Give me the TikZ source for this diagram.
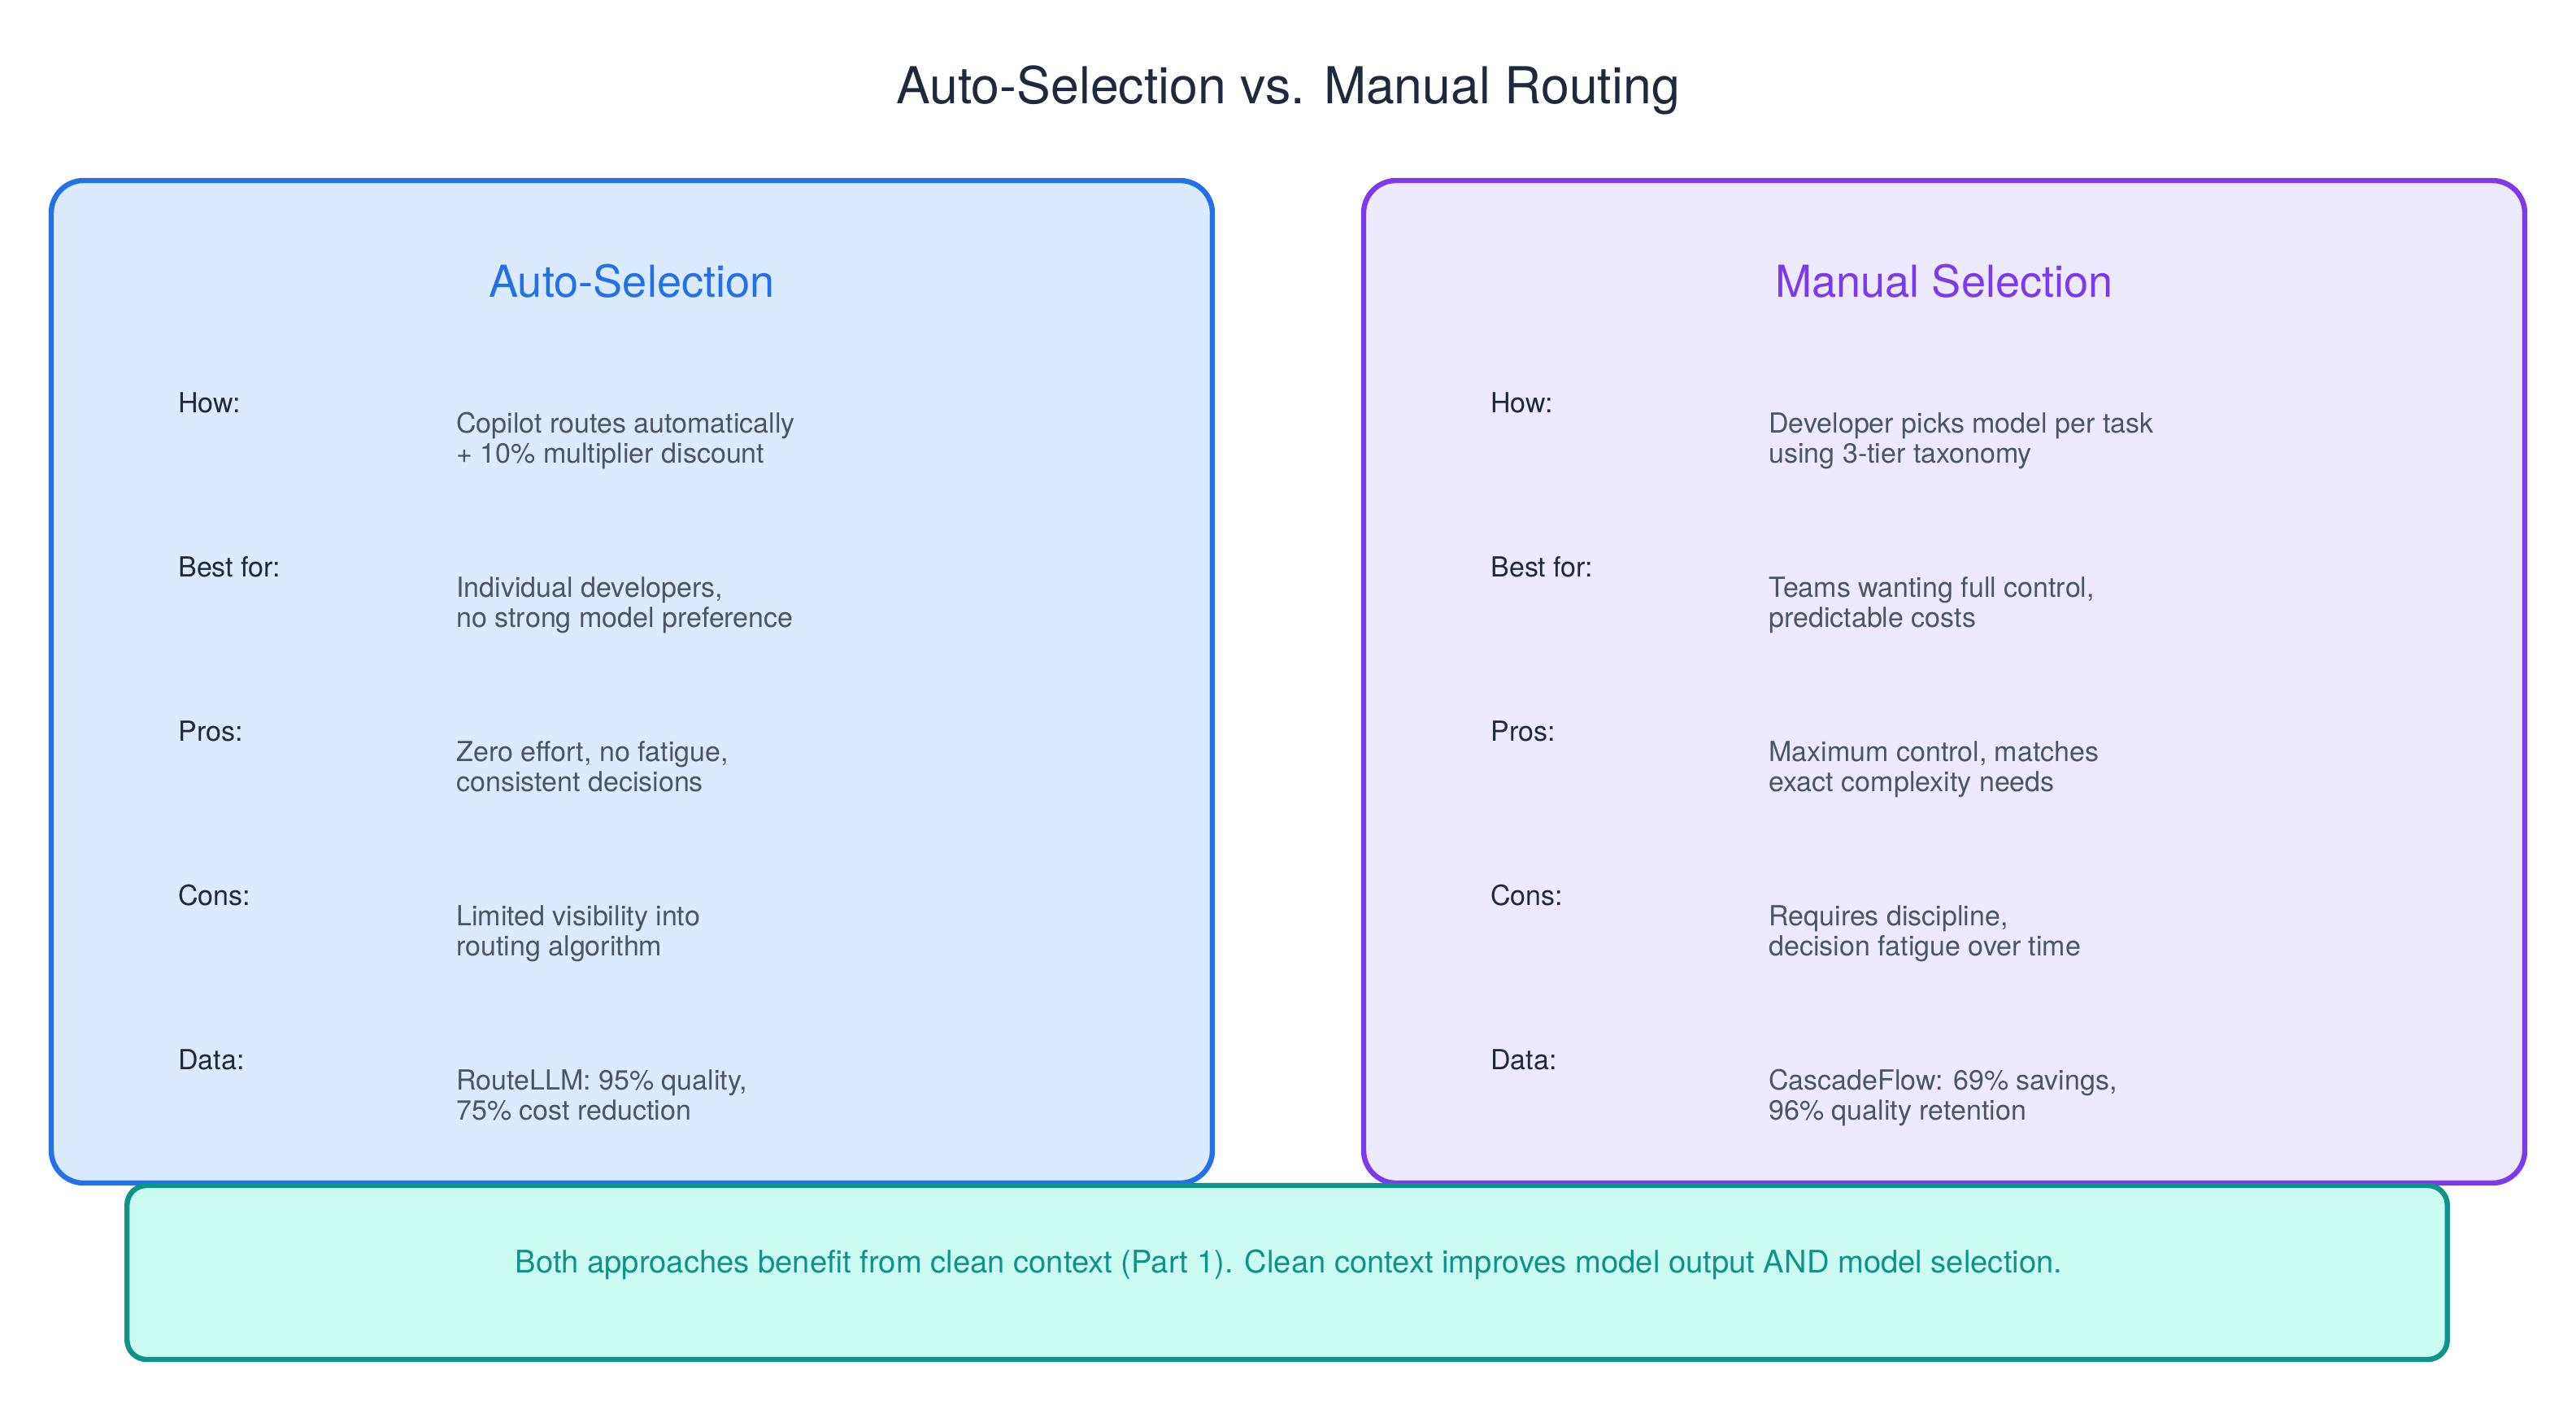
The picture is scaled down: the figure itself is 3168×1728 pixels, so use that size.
\documentclass[tikz,border=0pt]{standalone}
\usepackage{fontspec}
\setmainfont{TeX Gyre Heros}
\usetikzlibrary{shapes}
\usetikzlibrary{backgrounds}
\definecolor{titlenavy}{HTML}{1E293B}
\definecolor{labgray}{HTML}{1F2937}
\definecolor{valgray}{HTML}{4B5563}
\definecolor{autoblue}{HTML}{2271E8}
\definecolor{autofill}{HTML}{DBEAFE}
\definecolor{manpurple}{HTML}{7C3AED}
\definecolor{manfill}{HTML}{EDE9FE}
\definecolor{noteteal}{HTML}{0D9488}
\definecolor{notefill}{HTML}{CCFBF1}

\begin{document}
\begin{tikzpicture}[x=0.5pt,y=-0.5pt,
	panel/.style={draw,line width=3.2pt,rounded corners=20pt,minimum width=714pt,minimum height=616.5pt,inner sep=0pt},
	head/.style={anchor=base,inner sep=0pt,font=\fontsize{27.1}{30}\selectfont},
	lab/.style={anchor=base west,inner sep=0pt,text=labgray,font=\fontsize{17}{18.5}\selectfont},
	val/.style={anchor=base west,inner sep=0pt,align=left,text=valgray,font=\fontsize{17}{18.5}\selectfont}]
\useasboundingbox[fill=white] (0,0) rectangle (3168,1728);
\node[anchor=base,inner sep=0pt,text=titlenavy,font=\fontsize{31.3}{36}\selectfont] (title) at (1584,128) {Auto-Selection vs. Manual Routing};
\node[panel,draw=autoblue,fill=autofill] (auto) at (777,838.5) {};
\node[panel,draw=manpurple,fill=manfill] (manual) at (2391,838.5) {};
\node[head,text=autoblue] (autohead) at (auto.center |- 0,365) {Auto-Selection};
\node[head,text=manpurple] (manhead) at (manual.center |- 0,365) {Manual Selection};
\foreach \lab/\lt/\rt [count=\n from 0] in {
	How:/{Copilot routes automatically\\+ 10\% multiplier discount}/{Developer picks model per task\\using 3-tier taxonomy},
	Best for:/{Individual developers,\\no strong model preference}/{Teams wanting full control,\\predictable costs},
	Pros:/{Zero effort, no fatigue,\\consistent decisions}/{Maximum control, matches\\exact complexity needs},
	Cons:/{Limited visibility into\\routing algorithm}/{Requires discipline,\\decision fatigue over time},
	Data:/{RouteLLM: 95\% quality,\\75\% cost reduction}/{CascadeFlow: 69\% savings,\\96\% quality retention}} {
	\node[lab] (al\n) at (219,507+202*\n) {\lab};
	\node[val] (av\n) at (561,569+202*\n) {\lt};
	\node[lab] (ml\n) at (1833,507+202*\n) {\lab};
	\node[val] (mv\n) at (2175,569+202*\n) {\rt};
}
\node[draw=noteteal,fill=notefill,line width=3.2pt,rounded corners=12pt,minimum width=1426.75pt,minimum height=107pt] (note) at (1583,1565) {};
\node[anchor=base,inner sep=0pt,text=noteteal,font=\fontsize{19.1}{22}\selectfont] (notetext) at (1585,1565) {Both approaches benefit from clean context (Part 1). Clean context improves model output AND model selection.};
\end{tikzpicture}
\end{document}
